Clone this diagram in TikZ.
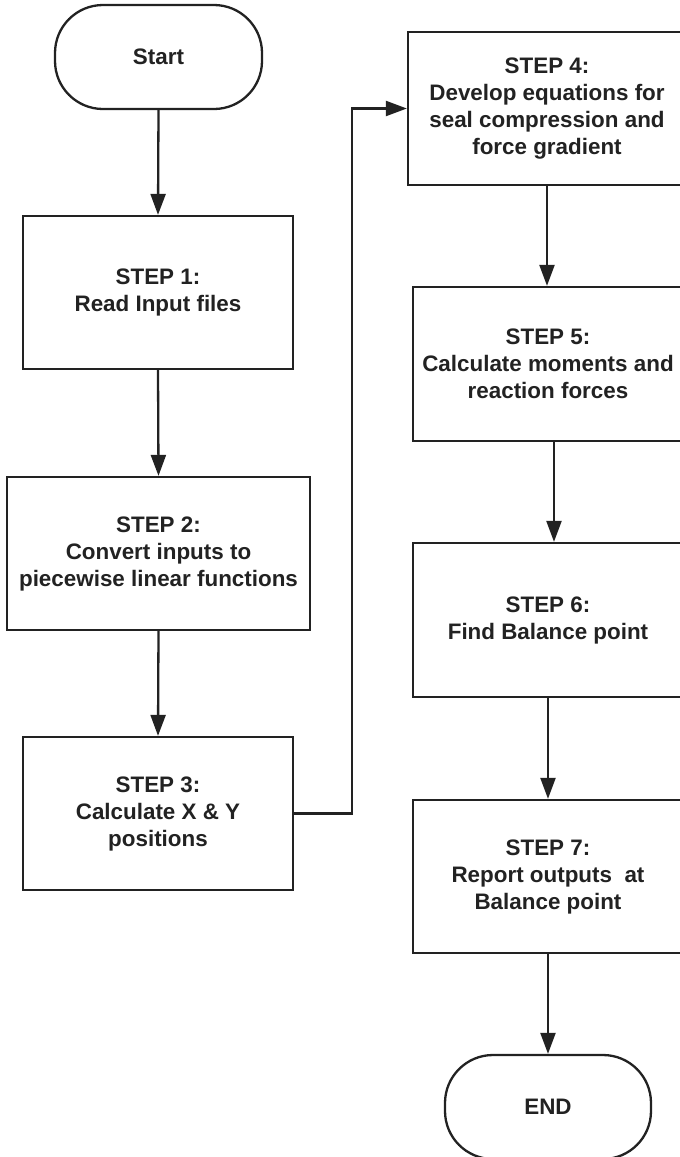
\documentclass[tikz,border=0pt]{standalone}
\usepackage{fontspec}
\setmainfont{Liberation Sans}
\usetikzlibrary{arrows.meta}
\definecolor{ink}{HTML}{222222}
\tikzset{
  every node/.style={font=\bfseries\fontsize{22.4}{27}\selectfont, text=ink, align=center},
  stepbox/.style={draw=ink, line width=2.3pt, rectangle, inner sep=0pt},
  terminal/.style={draw=ink, line width=2.3pt, rectangle, rounded corners=48pt, inner sep=0pt,
                   minimum width=207pt, minimum height=104pt},
  flow/.style={draw=ink, line width=2.3pt, -{Triangle[length=21pt,width=15pt]}}
}
\begin{document}
\begin{tikzpicture}[x=1pt,y=-1pt]
  \useasboundingbox (0,0) rectangle (680,1157);
  \fill[white] (0,0) rectangle (680,1157);

  % left column
  \node[terminal] (start) at (158.5,57) {Start};
  \node[stepbox, minimum width=270pt, minimum height=153pt] (s1) at (158,292.5) {STEP 1:\\Read Input files};
  \node[stepbox, minimum width=303pt, minimum height=153pt] (s2) at (158.5,553.5) {STEP 2:\\Convert inputs to\\piecewise linear functions};
  \node[stepbox, minimum width=270pt, minimum height=153pt] (s3) at (158,813.5) {STEP 3:\\Calculate X \& Y\\positions};

  % right column
  \node[stepbox, minimum width=278pt, minimum height=153pt] (s4) at (547,108.5) {STEP 4:\\Develop equations for\\seal compression and\\force gradient};
  \node[stepbox, minimum width=270pt, minimum height=154pt] (s5) at (548,364) {STEP 5:\\Calculate moments and\\reaction forces};
  \node[stepbox, minimum width=270pt, minimum height=154pt] (s6) at (548,620) {STEP 6:\\Find Balance point};
  \node[stepbox, minimum width=270pt, minimum height=153pt] (s7) at (548,876.5) {STEP 7:\\Report outputs\ \ at\\Balance point};
  \node[terminal, minimum width=206pt] (end) at (548,1107) {END};

  % connectors
  \draw[flow] (start.south) -- (s1.north);
  \draw[flow] (s1.south) -- (s2.north);
  \draw[flow] (s2.south) -- (s3.north);
  \draw[flow] (s3.east) -- ++(58,0) |- (s4.west);
  \draw[flow] (s4.south) -- (s4.south |- s5.north);
  \draw[flow] ([xshift=6pt]s5.south) -- ([xshift=6pt]s6.north);
  \draw[flow] (s6.south) -- (s7.north);
  \draw[flow] (s7.south) -- (end.north);
\end{tikzpicture}
\end{document}
